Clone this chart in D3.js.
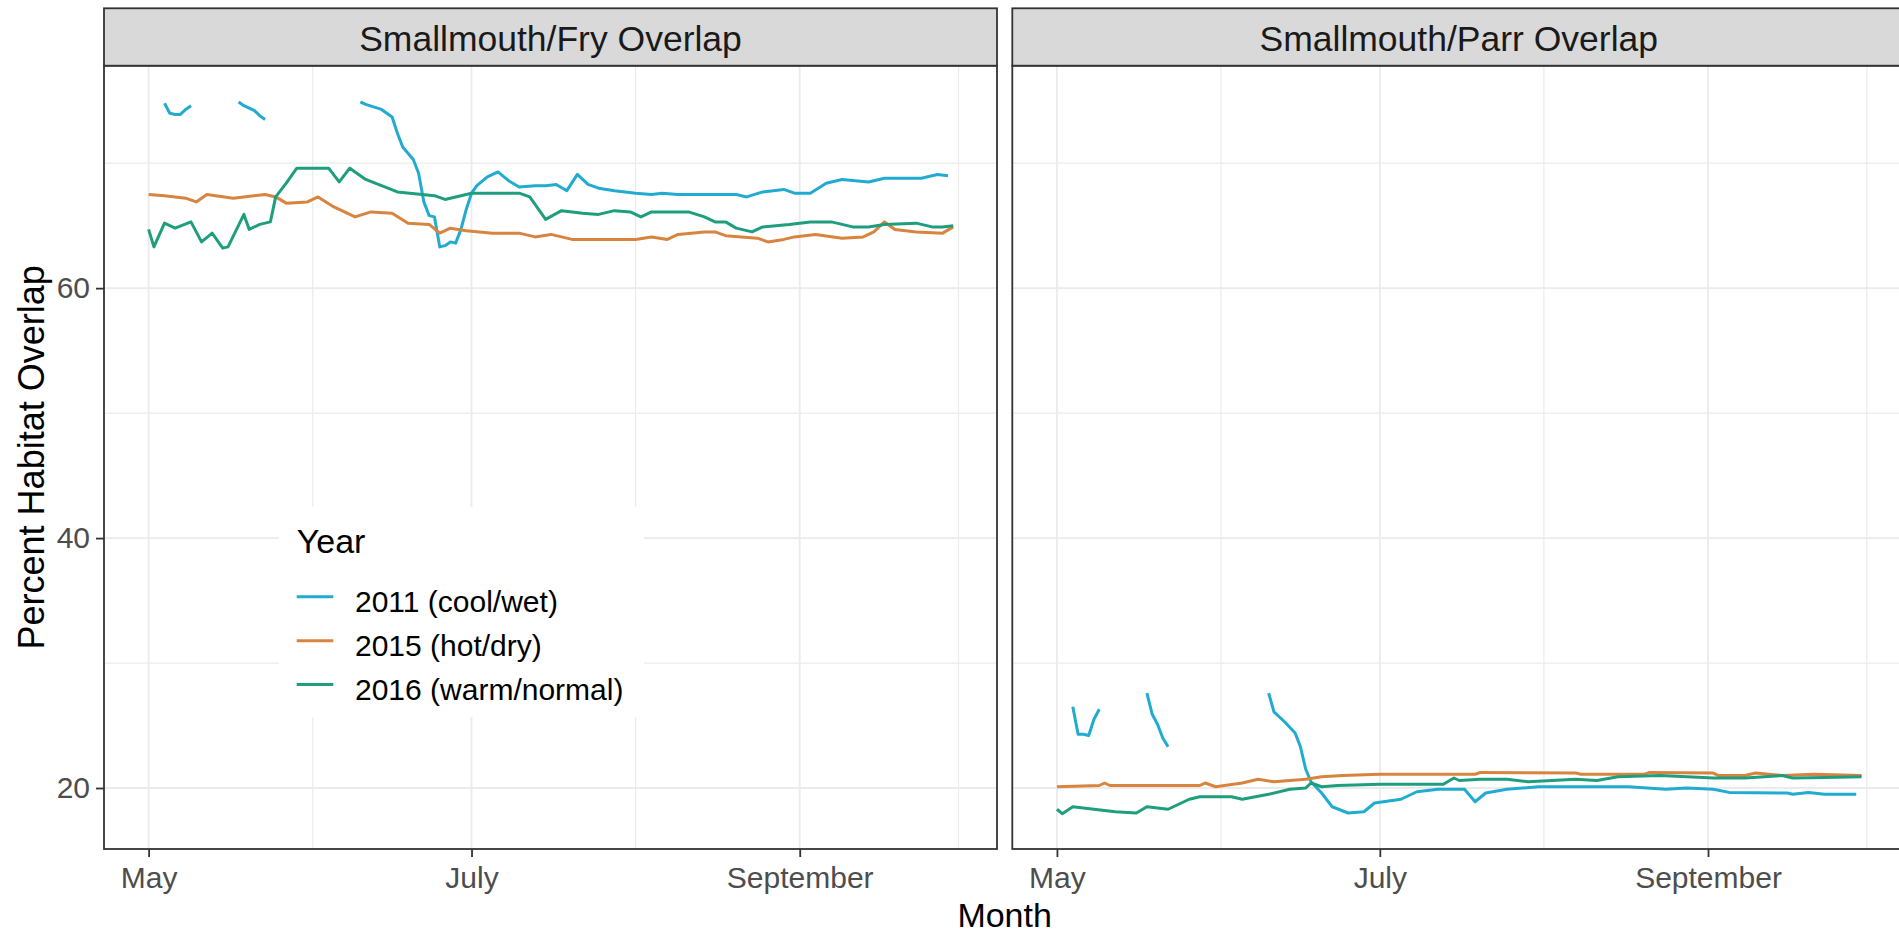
<!DOCTYPE html>
<html>
<head>
<meta charset="utf-8">
<script src="https://cdn.jsdelivr.net/npm/d3@7"></script>
<style>
  html, body { margin: 0; padding: 0; background: #ffffff; }
  svg { display: block; font-family: "Liberation Sans", Arial, Helvetica, sans-serif; }
</style>
</head>
<body>
<svg id="chart" width="1899" height="936"></svg>
<script>
// ---- Data: daily percent habitat overlap, month-day vs value (null = gap) ----
const facetNames = ["Smallmouth/Fry Overlap", "Smallmouth/Parr Overlap"];
const yearLabels = ["2011 (cool/wet)", "2015 (hot/dry)", "2016 (warm/normal)"];
const yearColors = ["#22abd0", "#d8843f", "#1f9e7d"];

const fry2011 = [
  ["05-04",74.8],["05-05",74.0],["05-06",73.9],["05-07",73.9],["05-08",74.3],["05-09",74.6],
  null,
  ["05-18",74.9],["05-19",74.6],["05-20",74.4],["05-21",74.2],["05-22",73.8],["05-23",73.5],
  null,
  ["06-10",74.9],["06-11",74.7],["06-14",74.3],["06-16",73.7],["06-17",72.4],["06-18",71.3],
  ["06-19",70.8],["06-20",70.3],["06-21",69.2],["06-22",66.9],["06-23",65.8],["06-24",65.7],
  ["06-25",63.3],["06-26",63.4],["06-27",63.7],["06-28",63.6],["06-29",64.7],["06-30",66.3],
  ["07-01",67.6],["07-02",68.2],["07-04",68.9],["07-06",69.3],["07-08",68.6],["07-10",68.1],
  ["07-13",68.2],["07-15",68.2],["07-17",68.3],["07-19",67.8],["07-21",69.1],["07-23",68.3],
  ["07-25",68.0],["07-28",67.8],["08-01",67.6],["08-04",67.5],["08-06",67.6],["08-09",67.5],
  ["08-20",67.5],["08-22",67.3],["08-25",67.7],["08-29",67.9],["08-31",67.6],["09-03",67.6],
  ["09-06",68.4],["09-09",68.7],["09-14",68.5],["09-17",68.8],["09-24",68.8],["09-27",69.1],
  ["09-29",69.0]
];
const fry2015 = [
  ["05-01",67.5],["05-04",67.4],["05-08",67.2],["05-10",66.9],["05-12",67.5],["05-17",67.2],
  ["05-23",67.5],["05-25",67.3],["05-27",66.8],["05-31",66.9],["06-02",67.3],["06-05",66.5],
  ["06-09",65.7],["06-12",66.1],["06-16",66.0],["06-19",65.2],["06-23",65.1],["06-25",64.4],
  ["06-27",64.8],["06-30",64.6],["07-05",64.4],["07-10",64.4],["07-13",64.1],["07-16",64.3],
  ["07-20",63.9],["07-25",63.9],["07-29",63.9],["08-01",63.9],["08-04",64.1],["08-07",63.9],
  ["08-09",64.3],["08-14",64.5],["08-16",64.5],["08-18",64.2],["08-24",64.0],["08-26",63.7],
  ["08-29",63.9],["08-31",64.1],["09-04",64.3],["09-09",64.0],["09-13",64.1],["09-15",64.5],
  ["09-17",65.3],["09-19",64.7],["09-23",64.5],["09-28",64.4],["09-30",64.9]
];
const fry2016 = [
  ["05-01",64.7],["05-02",63.3],["05-04",65.2],["05-06",64.8],["05-09",65.3],["05-11",63.7],
  ["05-13",64.4],["05-15",63.2],["05-16",63.3],["05-19",65.9],["05-20",64.7],["05-22",65.1],
  ["05-24",65.3],["05-25",67.3],["05-27",68.4],["05-29",69.6],["06-04",69.6],["06-06",68.5],
  ["06-08",69.6],["06-11",68.7],["06-14",68.2],["06-17",67.7],["06-24",67.4],["06-26",67.1],
  ["06-28",67.3],["07-01",67.6],["07-10",67.6],["07-12",67.3],["07-15",65.5],["07-18",66.2],
  ["07-22",66.0],["07-25",65.9],["07-28",66.2],["07-31",66.1],["08-02",65.7],["08-04",66.1],
  ["08-08",66.1],["08-11",66.1],["08-14",65.7],["08-16",65.3],["08-18",65.3],["08-20",64.8],
  ["08-23",64.5],["08-25",64.9],["08-30",65.1],["09-03",65.3],["09-07",65.3],["09-11",64.9],
  ["09-14",64.9],["09-17",65.1],["09-23",65.2],["09-26",64.9],["09-28",64.9],["09-30",65.0]
];

const parr2011 = [
  ["05-04",26.5],["05-05",24.3],["05-06",24.3],["05-07",24.2],["05-08",25.5],["05-09",26.3],
  null,
  ["05-18",27.6],["05-19",25.9],["05-20",25.1],["05-21",24.0],["05-22",23.3],
  null,
  ["06-10",27.6],["06-11",26.1],["06-13",25.3],["06-15",24.4],["06-16",23.3],["06-17",21.5],
  ["06-18",20.5],["06-20",19.6],["06-22",18.5],["06-25",18.0],["06-28",18.1],["06-30",18.8],
  ["07-05",19.1],["07-08",19.7],["07-12",19.9],["07-17",19.9],["07-19",18.9],["07-21",19.6],
  ["07-25",19.9],["07-31",20.1],["08-07",20.1],["08-17",20.1],["08-24",19.9],["08-28",20.0],
  ["09-02",19.9],["09-05",19.65],["09-16",19.6],["09-17",19.5],["09-20",19.65],["09-23",19.5],
  ["09-29",19.5]
];
const parr2015 = [
  ["05-01",20.1],["05-09",20.2],["05-10",20.4],["05-11",20.2],["05-28",20.2],["05-29",20.4],
  ["05-31",20.1],["06-05",20.4],["06-08",20.7],["06-11",20.5],["06-17",20.7],["06-20",20.9],
  ["06-24",21.0],["07-01",21.1],["07-05",21.1],["07-19",21.1],["07-20",21.25],["08-07",21.2],
  ["08-08",21.1],["08-20",21.1],["08-21",21.25],["09-02",21.2],["09-03",21.0],["09-08",21.0],
  ["09-10",21.2],["09-15",21.0],["09-21",21.1],["09-30",21.0]
];
const parr2016 = [
  ["05-01",18.3],["05-02",17.95],["05-04",18.5],["05-08",18.3],["05-12",18.1],["05-16",18.0],
  ["05-18",18.5],["05-22",18.3],["05-23",18.5],["05-26",19.1],["05-28",19.3],["06-03",19.3],
  ["06-05",19.1],["06-10",19.5],["06-14",19.9],["06-17",20.0],["06-18",20.4],["06-20",20.1],
  ["06-23",20.2],["07-01",20.3],["07-07",20.3],["07-13",20.3],["07-15",20.8],["07-16",20.6],
  ["07-20",20.7],["07-25",20.7],["07-29",20.5],["08-07",20.7],["08-11",20.6],["08-15",20.9],
  ["08-23",21.0],["08-28",20.9],["09-02",20.8],["09-08",20.8],["09-15",21.0],["09-17",20.8],
  ["09-23",20.85],["09-30",20.9]
];

// Axis breaks
const monthBreaks = ["05-01", "07-01", "09-01"];
const monthLabels = ["May", "July", "September"];
const monthMinorBreaks = ["06-01", "08-01", "10-01"];
const yBreaks = [20, 40, 60];
const yMinorBreaks = [30, 50, 70];

// ---- Layout ----
const svg = d3.select("#chart");
const DAY = 864e5;
const parseMD = s => new Date(Date.UTC(2000, +s.slice(0, 2) - 1, +s.slice(3)));
const may1 = parseMD("05-01");

const panelTop = 65.7, panelBottom = 849, stripTop = 8.3, panelWidth = 893;
const panelLefts = [104, 1012.3];

const y = d3.scaleLinear().domain([15.12, 77.8]).range([panelBottom, panelTop]);
const x = d3.scaleUtc()
  .domain([new Date(+may1 - 8.43 * DAY), new Date(+may1 + 160.27 * DAY)])
  .range([0, panelWidth]);

const facetSeries = [
  [fry2011, fry2015, fry2016],
  [parr2011, parr2015, parr2016]
];

const line = d3.line()
  .defined(d => d !== null)
  .x(d => x(parseMD(d[0])))
  .y(d => y(d[1]));

const gridColor = "#ebebeb";
const darkColor = "#333333";

facetNames.forEach((name, i) => {
  const g = svg.append("g").attr("transform", `translate(${panelLefts[i]},0)`);

  // clip to panel
  const clipId = "clip" + i;
  g.append("clipPath").attr("id", clipId)
    .append("rect").attr("x", 0).attr("y", panelTop)
    .attr("width", panelWidth).attr("height", panelBottom - panelTop);

  const grid = g.append("g");
  // minor grid
  grid.selectAll(".ymin").data(yMinorBreaks).join("line")
    .attr("x1", 0).attr("x2", panelWidth)
    .attr("y1", d => y(d)).attr("y2", d => y(d))
    .attr("stroke", gridColor).attr("stroke-width", 1.2);
  grid.selectAll(".xmin").data(monthMinorBreaks).join("line")
    .attr("x1", d => x(parseMD(d))).attr("x2", d => x(parseMD(d)))
    .attr("y1", panelTop).attr("y2", panelBottom)
    .attr("stroke", gridColor).attr("stroke-width", 1.2);
  // major grid
  grid.selectAll(".ymaj").data(yBreaks).join("line")
    .attr("x1", 0).attr("x2", panelWidth)
    .attr("y1", d => y(d)).attr("y2", d => y(d))
    .attr("stroke", gridColor).attr("stroke-width", 1.8);
  grid.selectAll(".xmaj").data(monthBreaks).join("line")
    .attr("x1", d => x(parseMD(d))).attr("x2", d => x(parseMD(d)))
    .attr("y1", panelTop).attr("y2", panelBottom)
    .attr("stroke", gridColor).attr("stroke-width", 1.8);

  // series
  const lines = g.append("g").attr("clip-path", `url(#${clipId})`);
  facetSeries[i].forEach((series, k) => {
    lines.append("path")
      .datum(series)
      .attr("d", line)
      .attr("fill", "none")
      .attr("stroke", yearColors[k])
      .attr("stroke-width", 3)
      .attr("stroke-linejoin", "round");
  });

  // panel border
  g.append("rect")
    .attr("x", 0).attr("y", panelTop)
    .attr("width", panelWidth).attr("height", panelBottom - panelTop)
    .attr("fill", "none").attr("stroke", darkColor).attr("stroke-width", 1.8);

  // strip
  g.append("rect")
    .attr("x", 0).attr("y", stripTop)
    .attr("width", panelWidth).attr("height", panelTop - stripTop)
    .attr("fill", "#d9d9d9").attr("stroke", darkColor).attr("stroke-width", 1.8);
  g.append("text")
    .attr("x", panelWidth / 2).attr("y", 50.5)
    .attr("text-anchor", "middle")
    .attr("font-size", 35.5)
    .attr("fill", "#1a1a1a")
    .text(name);

  // x axis
  const xAxis = d3.axisBottom(x)
    .tickValues(monthBreaks.map(parseMD))
    .tickFormat((d, j) => monthLabels[j])
    .tickSize(8).tickSizeOuter(0).tickPadding(10);
  const xa = g.append("g").attr("transform", `translate(0,${panelBottom})`).call(xAxis);
  xa.select(".domain").remove();
  xa.selectAll(".tick line").attr("stroke", darkColor).attr("stroke-width", 1.8);
  xa.selectAll(".tick text")
    .attr("font-family", "Liberation Sans, Arial, sans-serif")
    .attr("font-size", 30).attr("fill", "#4d4d4d");

  // y axis (left panel only)
  if (i === 0) {
    const yAxis = d3.axisLeft(y)
      .tickValues(yBreaks)
      .tickSize(8).tickSizeOuter(0).tickPadding(6);
    const ya = g.append("g").call(yAxis);
    ya.select(".domain").remove();
    ya.selectAll(".tick line").attr("stroke", darkColor).attr("stroke-width", 1.8);
    ya.selectAll(".tick text")
      .attr("font-family", "Liberation Sans, Arial, sans-serif")
      .attr("font-size", 30).attr("fill", "#4d4d4d");
  }
});

// axis titles
svg.append("text")
  .attr("x", (panelLefts[0] + panelLefts[1] + panelWidth) / 2)
  .attr("y", 927)
  .attr("text-anchor", "middle")
  .attr("font-size", 34)
  .attr("fill", "#000")
  .text("Month");

svg.append("text")
  .attr("transform", `translate(44,${(panelTop + panelBottom) / 2}) rotate(-90)`)
  .attr("text-anchor", "middle")
  .attr("font-size", 36)
  .attr("fill", "#000")
  .text("Percent Habitat Overlap");

// legend (inside the first panel)
const legend = svg.append("g");
legend.append("rect")
  .attr("x", 279).attr("y", 507).attr("width", 365).attr("height", 210)
  .attr("fill", "#ffffff");
legend.append("text")
  .attr("x", 296.7).attr("y", 553.3)
  .attr("font-size", 34).attr("fill", "#000")
  .text("Year");
const keyY = [596.7, 640.7, 684.5];
yearLabels.forEach((lab, k) => {
  legend.append("line")
    .attr("x1", 296.7).attr("x2", 333.3)
    .attr("y1", keyY[k]).attr("y2", keyY[k])
    .attr("stroke", yearColors[k]).attr("stroke-width", 3);
  legend.append("text")
    .attr("x", 355).attr("y", keyY[k] + 15.2)
    .attr("font-size", 30).attr("fill", "#000")
    .text(lab);
});
</script>
</body>
</html>
